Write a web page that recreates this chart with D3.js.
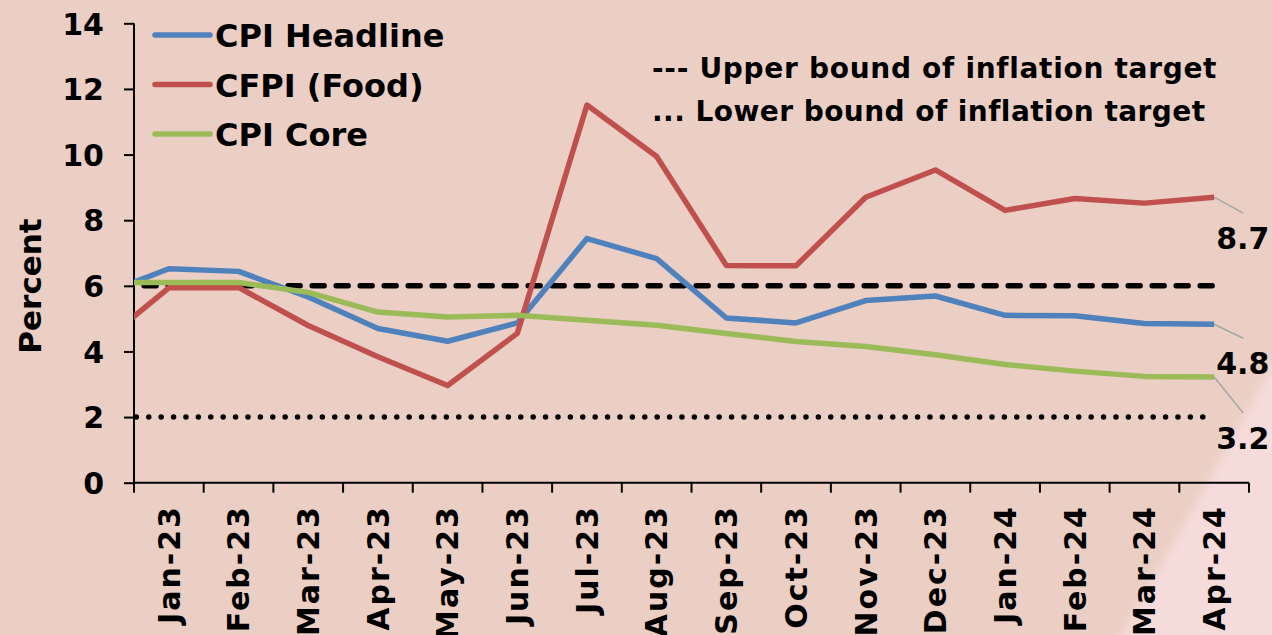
<!DOCTYPE html>
<html>
<head>
<meta charset="utf-8">
<script src="https://cdn.jsdelivr.net/npm/d3@7"></script>
<style>
  body { margin: 0; background: #ebcfc5; }
  svg text { font-family: "DejaVu Sans", Verdana, sans-serif; font-weight: bold; fill: #000; }
</style>
</head>
<body>
<div class="chart"></div>
<script>
// months shown on the axis; "Dec-22" is the lead-in point, cut off at the y axis
const months = ['Jan-23', 'Feb-23', 'Mar-23', 'Apr-23', 'May-23', 'Jun-23', 'Jul-23', 'Aug-23',
  'Sep-23', 'Oct-23', 'Nov-23', 'Dec-23', 'Jan-24', 'Feb-24', 'Mar-24', 'Apr-24'];
const leadMonth = 'Dec-22';

const headline = [5.7, 6.52, 6.44, 5.66, 4.7, 4.31, 4.87, 7.44, 6.83, 5.02, 4.87, 5.55, 5.69, 5.1, 5.09, 4.85, 4.83];
const food = [4.2, 5.94, 5.95, 4.79, 3.84, 2.96, 4.55, 11.51, 9.94, 6.62, 6.61, 8.7, 9.53, 8.3, 8.66, 8.52, 8.7];
const core = [6.1, 6.1, 6.1, 5.8, 5.2, 5.05, 5.1, 4.95, 4.8, 4.55, 4.3, 4.15, 3.9, 3.6, 3.4, 3.24, 3.22];
const upperBound = 6;
const lowerBound = 2;
const yTicks = [0, 2, 4, 6, 8, 10, 12, 14];

const series = [
  { name: 'CPI Headline', values: headline, color: '#4f81bd', labelDy: 14 },
  { name: 'CFPI (Food)', values: food, color: '#c0504d', labelDy: 16 },
  { name: 'CPI Core', values: core, color: '#9bbb59', labelDy: 36 }
];

const width = 1272;
const height = 635;
const plotLeft = 134, plotRight = 1249, plotTop = 23.3, plotBottom = 482.7;

const svg = d3.select('.chart').append('svg')
  .attr('width', width)
  .attr('height', height);

// background with the lighter pink corner
const defs = svg.append('defs');
defs.append('filter').attr('id', 'soft')
  .attr('x', '-20%').attr('y', '-20%').attr('width', '140%').attr('height', '140%')
  .append('feGaussianBlur').attr('stdDeviation', 5);
svg.append('rect').attr('width', width).attr('height', height).attr('fill', '#ebcfc5');
svg.append('path')
  .attr('d', 'M1108,660 L1290,335 L1300,660 Z')
  .attr('fill', '#f5dbda')
  .attr('filter', 'url(#soft)');

defs.append('clipPath').attr('id', 'plot')
  .append('rect')
  .attr('x', plotLeft).attr('y', 0)
  .attr('width', plotRight - plotLeft + 20).attr('height', height);

const allMonths = [leadMonth].concat(months);
const bw = (plotRight - plotLeft) / months.length;
const x = d3.scaleBand()
  .domain(allMonths)
  .range([plotLeft - bw, plotRight]);
const cx = m => x(m) + x.bandwidth() / 2;

const y = d3.scaleLinear()
  .domain([0, 14])
  .range([plotBottom, plotTop]);

// y axis
const yAxis = svg.append('g').attr('transform', `translate(${plotLeft},0)`)
  .call(d3.axisLeft(y).tickValues(yTicks).tickSize(10).tickPadding(20));
yAxis.select('.domain').attr('stroke-width', 2).attr('d', `M0,${plotTop}V${plotBottom}`);
yAxis.selectAll('.tick line').attr('stroke-width', 2);
yAxis.selectAll('.tick text')
  .attr('font-size', 30)
  .attr('dy', '0.36em');

// x axis: ticks on month boundaries, labels at month centres
const xAxis = svg.append('g');
xAxis.append('line')
  .attr('x1', plotLeft).attr('x2', plotRight)
  .attr('y1', plotBottom).attr('y2', plotBottom)
  .attr('stroke', '#000').attr('stroke-width', 2);
xAxis.selectAll('line.tick')
  .data(months.concat(['end']))
  .enter()
  .append('line')
  .attr('class', 'tick')
  .attr('x1', d => d === 'end' ? plotRight : x(d))
  .attr('x2', d => d === 'end' ? plotRight : x(d))
  .attr('y1', plotBottom).attr('y2', plotBottom + 10)
  .attr('stroke', '#000').attr('stroke-width', 2);
xAxis.selectAll('text')
  .data(months)
  .enter()
  .append('text')
  .attr('transform', d => `translate(${cx(d)},505) rotate(-90)`)
  .attr('text-anchor', 'end')
  .attr('dy', '0.36em')
  .attr('font-size', 30)
  .attr('letter-spacing', 2)
  .text(d => d);

svg.append('text')
  .attr('transform', 'translate(30,286) rotate(-90)')
  .attr('text-anchor', 'middle')
  .attr('dy', '0.36em')
  .attr('font-size', 31)
  .text('Percent');

const plot = svg.append('g').attr('clip-path', 'url(#plot)');
const line = d3.line()
  .x((d, i) => cx(allMonths[i]))
  .y(d => y(d));

// inflation target bounds
plot.append('path')
  .datum(allMonths.map(() => upperBound))
  .attr('d', line)
  .attr('fill', 'none')
  .attr('stroke', '#000')
  .attr('stroke-width', 5.5)
  .attr('stroke-linecap', 'round')
  .attr('stroke-dasharray', '12 12')
  .attr('stroke-dashoffset', 3);
plot.append('path')
  .datum(allMonths.map(() => lowerBound))
  .attr('d', line)
  .attr('fill', 'none')
  .attr('stroke', '#000')
  .attr('stroke-width', 5.5)
  .attr('stroke-linecap', 'round')
  .attr('stroke-dasharray', '0 12.4');

plot.selectAll('path.series')
  .data(series)
  .enter()
  .append('path')
  .attr('class', 'series')
  .attr('d', d => line(d.values))
  .attr('fill', 'none')
  .attr('stroke', d => d.color)
  .attr('stroke-width', 5.5)
  .attr('stroke-linejoin', 'round');

// end labels with leader lines
const lastM = months[months.length - 1];
const ends = svg.append('g');
ends.selectAll('line')
  .data(series)
  .enter()
  .append('line')
  .attr('x1', cx(lastM))
  .attr('y1', d => y(d.values[d.values.length - 1]))
  .attr('x2', cx(lastM) + 29)
  .attr('y2', d => y(d.values[d.values.length - 1]) + d.labelDy)
  .attr('stroke', '#a6a6a6')
  .attr('stroke-width', 1.5);
ends.selectAll('text')
  .data(series)
  .enter()
  .append('text')
  .attr('x', cx(lastM) + 2)
  .attr('y', d => y(d.values[d.values.length - 1]) + d.labelDy + 36)
  .attr('font-size', 30)
  .text(d => d3.format('.1f')(d.values[d.values.length - 1]));

// legend
const legend = svg.append('g');
const lg = legend.selectAll('g')
  .data(series)
  .enter()
  .append('g')
  .attr('transform', (d, i) => `translate(155,${35 + i * 49.5})`);
lg.append('line')
  .attr('x1', 0).attr('x2', 55)
  .attr('stroke', d => d.color)
  .attr('stroke-width', 5.5)
  .attr('stroke-linecap', 'round');
lg.append('text')
  .attr('x', 60)
  .attr('y', 12)
  .attr('font-size', 32)
  .text(d => d.name);

svg.append('text')
  .attr('x', 652).attr('y', 78)
  .attr('font-size', 28)
  .attr('letter-spacing', 0.7)
  .text('--- Upper bound of inflation target');
svg.append('text')
  .attr('x', 652).attr('y', 121)
  .attr('font-size', 28)
  .attr('letter-spacing', 0.45)
  .text('... Lower bound of inflation target');
</script>
</body>
</html>
